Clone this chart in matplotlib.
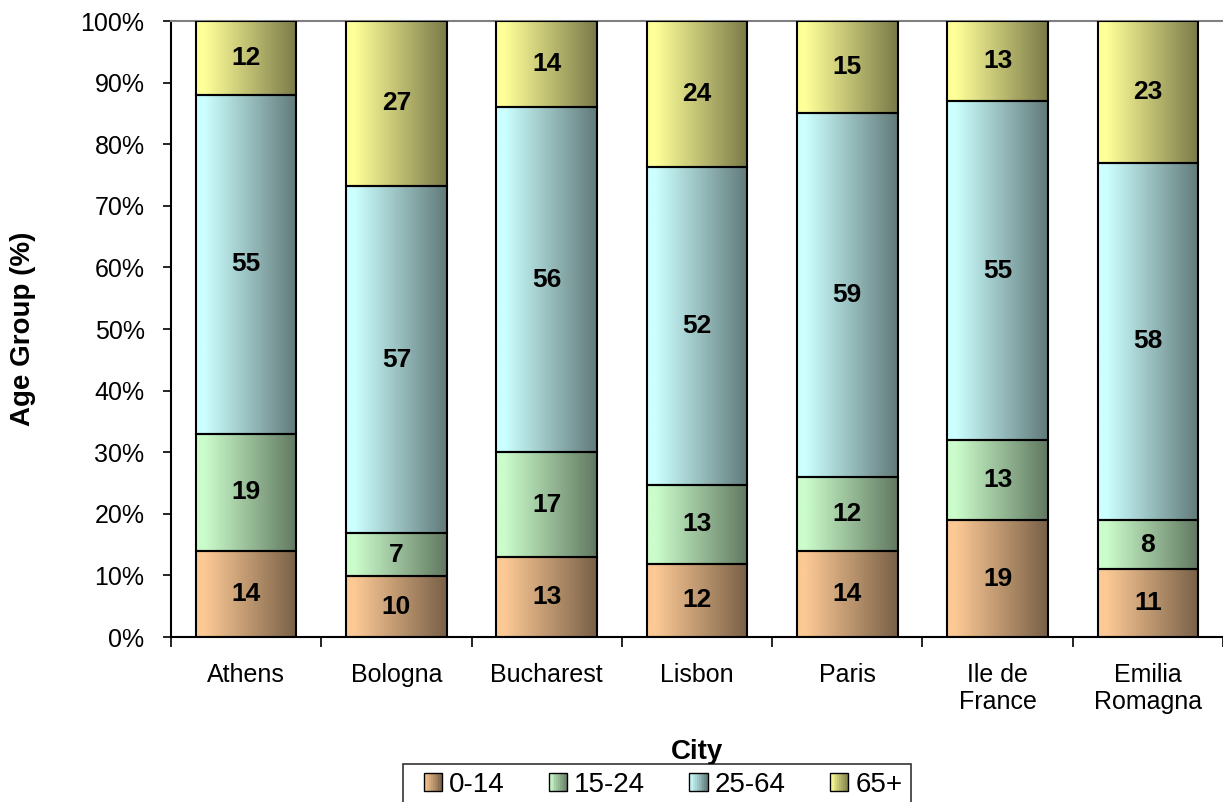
import numpy as np
import matplotlib
matplotlib.use("Agg")
import matplotlib.pyplot as plt
from matplotlib.patches import Rectangle
from matplotlib.legend_handler import HandlerBase

plt.rcParams['font.family'] = ['Liberation Sans', 'DejaVu Sans']

# Данные
cities = ['Athens', 'Bologna', 'Bucharest', 'Lisbon', 'Paris', 'Ile de\nFrance', 'Emilia\nRomagna']
groups = ['0-14', '15-24', '25-64', '65+']
age_0_14 = [14, 10, 13, 12, 14, 19, 11]
age_15_24 = [19, 7, 17, 13, 12, 13, 8]
age_25_64 = [55, 57, 56, 52, 59, 55, 58]
age_65 = [12, 27, 14, 24, 15, 13, 23]

colors = ['#FCC995', '#CBFCCB', '#CCFFFF', '#FFFF99']


def gradient_row(color, n=64):
    """Горизонтальный градиент: светлый слева, темнее справа"""
    c = np.array(matplotlib.colors.to_rgb(color))
    t = np.linspace(0, 1, n)
    t = np.clip((t - 0.08) / 0.92, 0, 1)
    f = 1 - 0.52 * t
    return (c[None, :] * f[:, None])[None, :, :]


class GradientHandler(HandlerBase):
    """Квадрат легенды с градиентом, прижат к правому краю ячейки"""
    def create_artists(self, legend, orig_handle, xdescent, ydescent,
                       width, height, fontsize, trans):
        c = np.array(matplotlib.colors.to_rgb(orig_handle.get_facecolor()))
        side = height
        x0 = -xdescent + width - side
        y0 = -ydescent
        n = 10
        arts = []
        for i in range(n):
            f = 1 - 0.5 * i / (n - 1)
            arts.append(Rectangle((x0 + side * i / n, y0), side / n + 0.3, side,
                                  facecolor=c * f, edgecolor='none', transform=trans))
        arts.append(Rectangle((x0, y0), side, side, facecolor='none',
                              edgecolor='black', lw=1.0, transform=trans))
        return arts


data = np.array([age_0_14, age_15_24, age_25_64, age_65], dtype=float)
pct = data / data.sum(axis=0) * 100

fig = plt.figure(figsize=(12.23, 8.02), dpi=100)
ax = fig.add_axes([0.1398, 0.2057, 0.8602, 0.768])

x = np.arange(len(cities))
width = 0.67
bottom = np.zeros(len(cities))
for g in range(len(groups)):
    grad = gradient_row(colors[g])
    for i in range(len(cities)):
        y0 = bottom[i]
        y1 = y0 + pct[g, i]
        ax.imshow(grad, extent=(x[i] - width / 2, x[i] + width / 2, y0, y1),
                  aspect='auto', zorder=2, interpolation='bilinear')
        ax.add_patch(Rectangle((x[i] - width / 2, y0), width, pct[g, i],
                               facecolor='none', edgecolor='black', lw=1.5, zorder=3))
        ax.text(x[i], (y0 + y1) / 2, f'{int(data[g, i])}', ha='center', va='center',
                fontsize=19, fontweight='bold', zorder=4)
    bottom += pct[g]

ax.set_xlim(-0.5, len(cities) - 0.5)
ax.set_ylim(0, 100)

ax.set_yticks(np.arange(0, 101, 10))
ax.set_yticklabels([f'{v}%' for v in range(0, 101, 10)], fontsize=18)
ax.set_xticks(x)
ax.set_xticklabels(cities, fontsize=18, linespacing=1.15)
ax.set_xticks(np.arange(-0.5, len(cities)), minor=True)
ax.tick_params(axis='x', which='major', length=0, pad=19)
ax.tick_params(axis='x', which='minor', length=7, width=1.2, direction='out')
ax.tick_params(axis='y', length=6, width=1.2, direction='out', pad=13)

for s in ['right']:
    ax.spines[s].set_visible(False)
ax.spines['top'].set_color('#808080')
ax.spines['top'].set_linewidth(1.5)
ax.spines['left'].set_linewidth(1.5)
ax.spines['bottom'].set_linewidth(1.5)

ax.set_ylabel('Age Group (%)', fontsize=20, fontweight='bold', labelpad=32)
ax.set_xlabel('City', fontsize=20, fontweight='bold', labelpad=18)

handles = [Rectangle((0, 0), 1, 1, facecolor=c) for c in colors]
leg = fig.legend(handles, groups, loc='upper center', bbox_to_anchor=(0.537, 0.048),
                 ncol=4, fontsize=20, frameon=True, fancybox=False,
                 handler_map={Rectangle: GradientHandler()},
                 handlelength=1.12, handleheight=0.65, handletextpad=0.25,
                 columnspacing=1.13, borderpad=0.3, borderaxespad=0)
leg.get_frame().set_edgecolor('black')
leg.get_frame().set_linewidth(1.2)

fig.savefig('out.png', dpi=100)
